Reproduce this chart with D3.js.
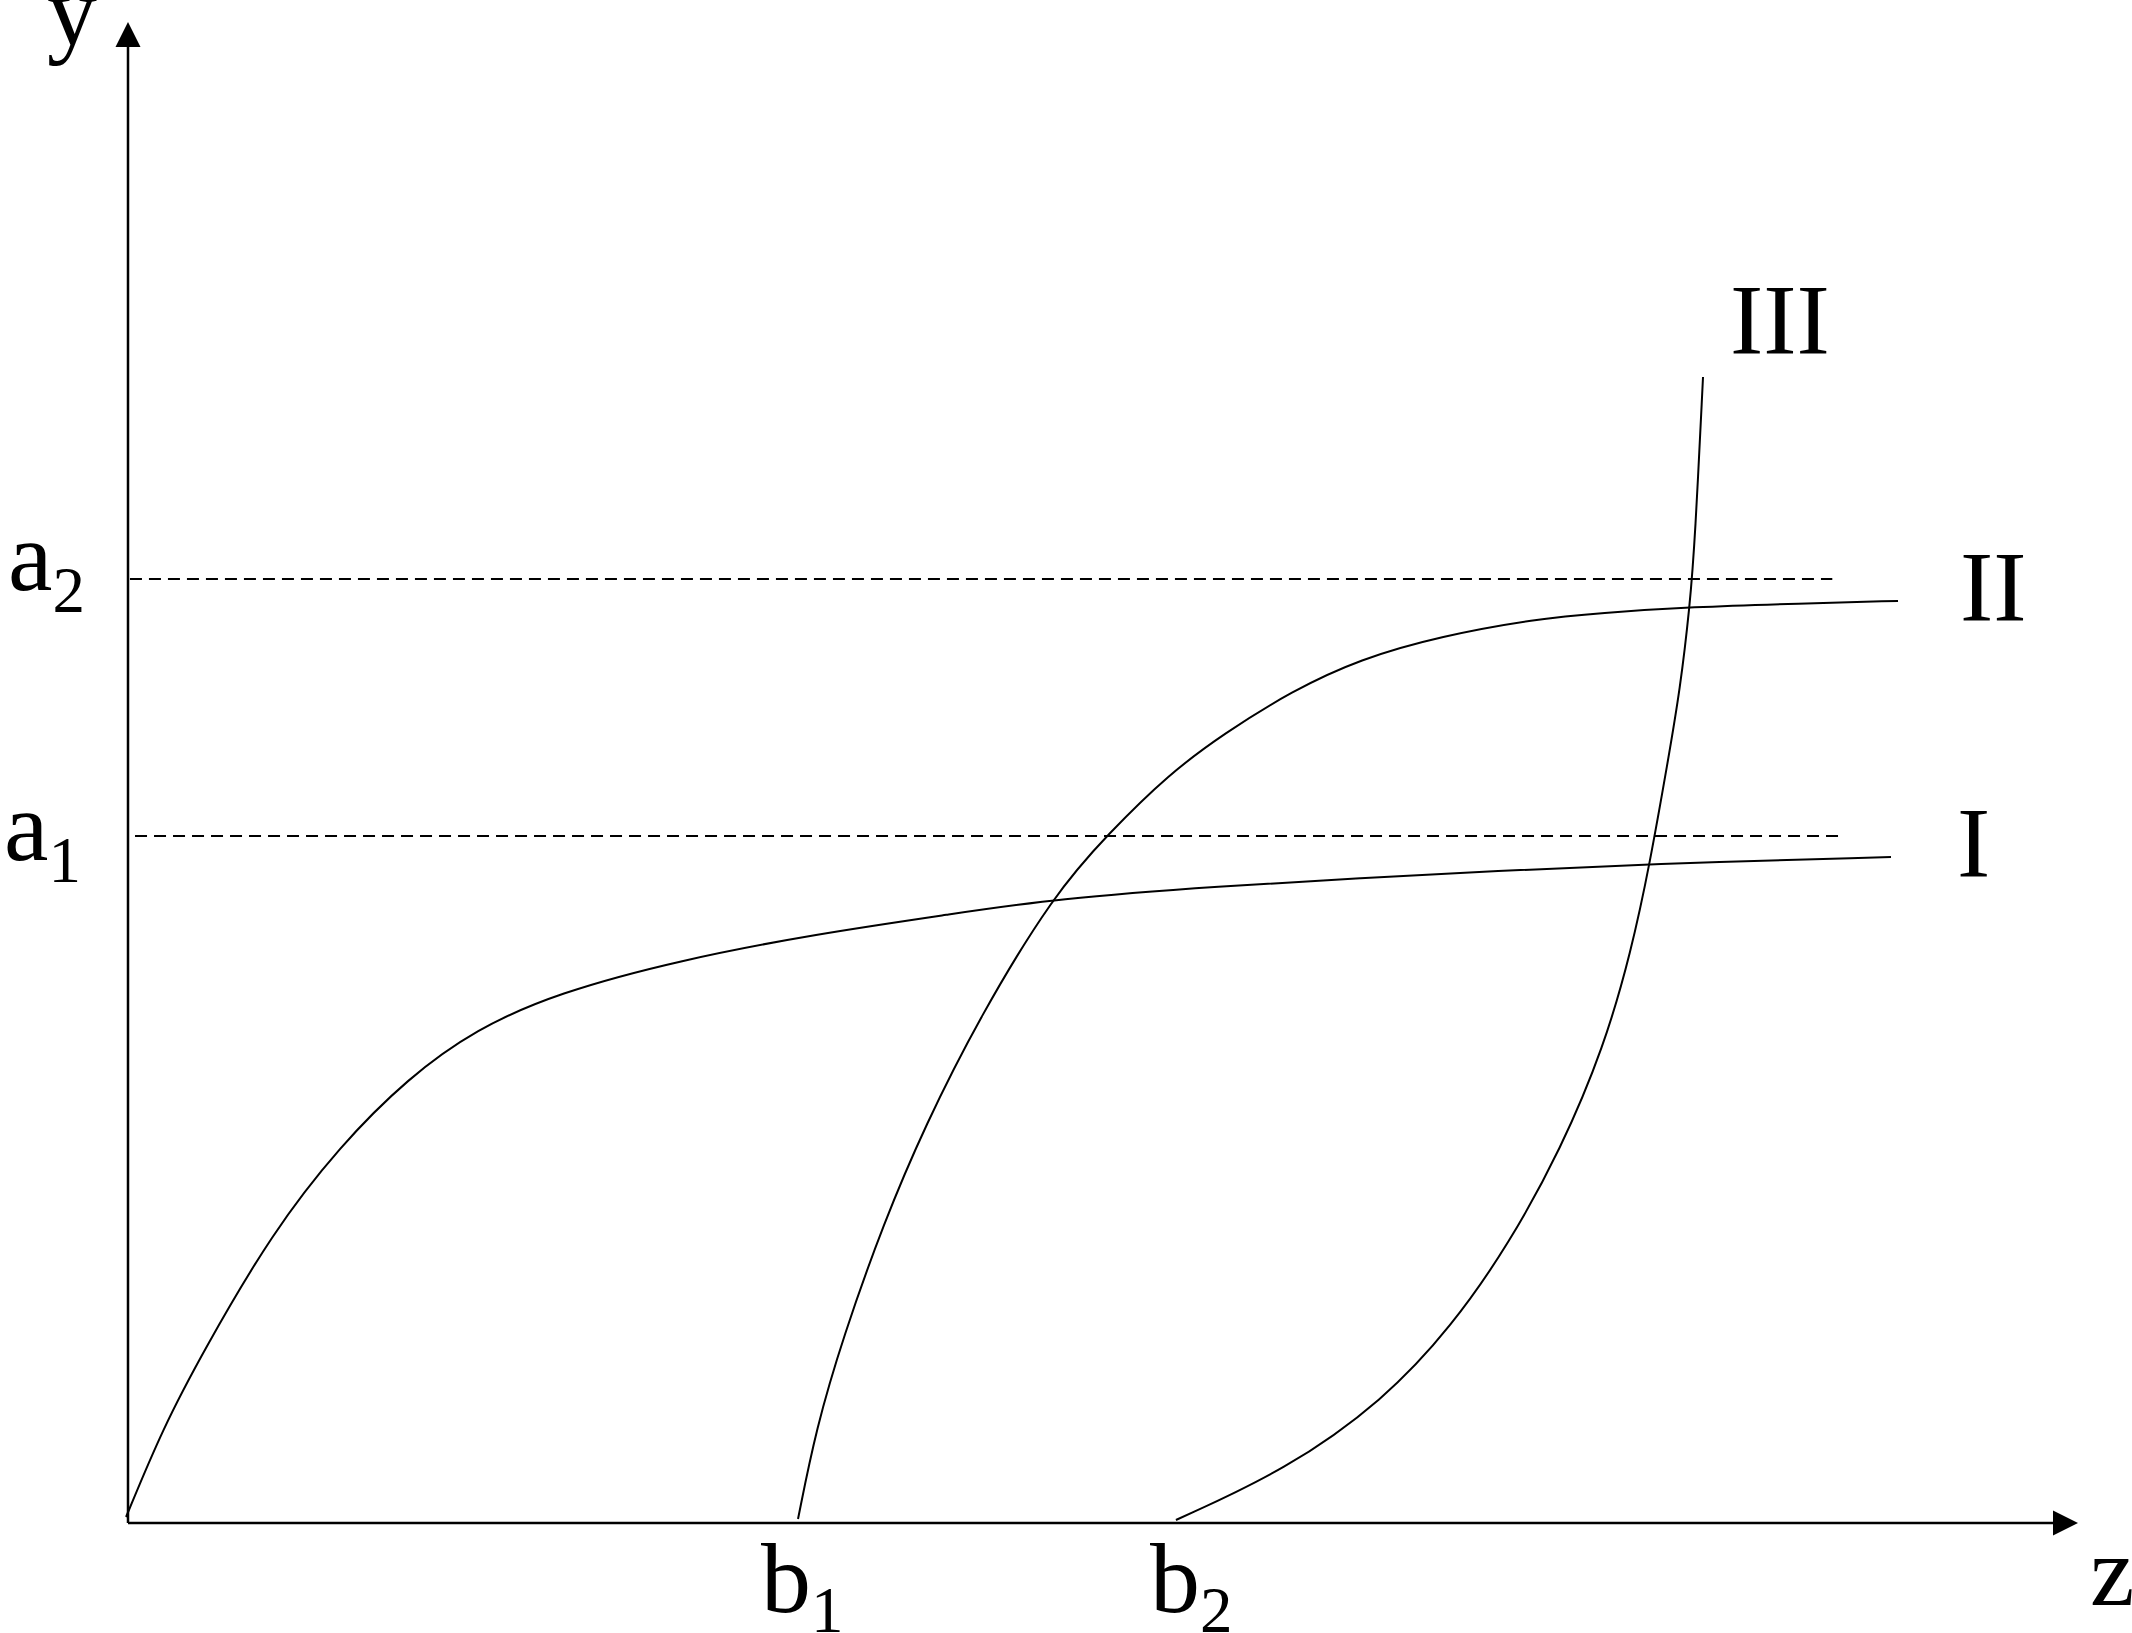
<!DOCTYPE html>
<html>
<head>
<meta charset="utf-8">
<script src="https://cdn.jsdelivr.net/npm/d3@7"></script>
<style>
  html, body { margin: 0; padding: 0; background: #fff; }
  svg { display: block; }
  text { font-family: "Liberation Serif", "Times New Roman", serif; fill: #000; }
</style>
</head>
<body>
<svg id="chart" width="2132" height="1633"></svg>
<script>
// ---- data (abstract units: z along horizontal axis, y along vertical axis) ----
const curveI = [
  [-0.1, 0.4], [1.79, 6.33], [3.90, 11.53], [7.38, 19.32], [10.87, 25.12],
  [14.36, 29.65], [17.85, 32.91], [22.0, 35.31], [28.31, 37.51], [35.28, 39.24],
  [42.26, 40.57], [47.49, 41.58], [56.21, 42.44], [63.18, 42.97], [70.15, 43.44],
  [77.79, 43.90], [90.41, 44.37]
];
const curveII = [
  [34.36, 0.27], [35.28, 6.26], [36.67, 12.39], [38.77, 20.05], [40.87, 26.45],
  [43.64, 33.64], [47.49, 41.90], [50.26, 45.9], [53.38, 49.9], [56.21, 52.6],
  [59.69, 55.43], [63.18, 57.56], [67.33, 59.09], [72.21, 60.23], [75.49, 60.63],
  [80.21, 61.03], [85.74, 61.26], [90.77, 61.43]
];
const curveIII = [
  [53.74, 0.2], [59.38, 3.53], [64.41, 8.19], [67.90, 13.12], [70.82, 18.59],
  [73.49, 24.92], [75.69, 31.71], [77.08, 38.04], [78.05, 43.97], [78.97, 50.77],
  [79.59, 55.50], [80.10, 61.16], [80.36, 65.49], [80.77, 76.35]
];
const curveNames = ["I", "II", "III"];
const levelNames = ["a", "a"];
const levelSubs = ["1", "2"];
const levelValues = [45.77, 62.89];
const levelExtent = [[0.36, 87.7], [0.1, 87.4]];
const bNames = ["b", "b"];
const bSubs = ["1", "2"];
const bValues = [34.36, 53.74];
const axisNames = ["z", "y"];

// ---- scales ----
const svg = d3.select("#chart");
const x = d3.scaleLinear().domain([0, 100]).range([128, 2078]);
const y = d3.scaleLinear().domain([0, 100]).range([1523, 22]);

// ---- axes ----
const g = svg.append("g");
g.append("line").attr("x1", x(0)).attr("y1", y(0)).attr("x2", x(0)).attr("y2", y(100) + 20)
  .attr("stroke", "#000").attr("stroke-width", 2.5);
g.append("line").attr("x1", x(0)).attr("y1", y(0)).attr("x2", x(100) - 20).attr("y2", y(0))
  .attr("stroke", "#000").attr("stroke-width", 2.5);
// arrow heads
g.append("path")
  .attr("d", `M${x(0)},${y(100)} L${x(0) - 12.5},${y(100) + 25} L${x(0) + 12.5},${y(100) + 25} Z`)
  .attr("fill", "#000");
g.append("path")
  .attr("d", `M${x(100)},${y(0)} L${x(100) - 25},${y(0) - 12.5} L${x(100) - 25},${y(0) + 12.5} Z`)
  .attr("fill", "#000");

// axis names
svg.append("text").attr("x", x(100) + 12).attr("y", y(0) + 82).attr("font-size", 100).text(axisNames[0]);
svg.append("text").attr("x", x(0) - 81).attr("y", y(100) + 23).attr("font-size", 100).text(axisNames[1]);

// ---- dashed levels ----
levelValues.forEach((v, i) => {
  svg.append("line")
    .attr("x1", x(levelExtent[i][0])).attr("x2", x(levelExtent[i][1]))
    .attr("y1", y(v)).attr("y2", y(v))
    .attr("stroke", "#000").attr("stroke-width", 2)
    .attr("stroke-dasharray", "12,7");
});
// level labels
const levelLabelPos = [{ dx: 4, dy: 24 }, { dx: 8, dy: 11 }];
levelValues.forEach((v, i) => {
  const t = svg.append("text").attr("x", levelLabelPos[i].dx).attr("y", y(v) + levelLabelPos[i].dy)
    .attr("font-size", 100);
  t.append("tspan").text(levelNames[i]);
  t.append("tspan").attr("font-size", 65).attr("dy", 22).text(levelSubs[i]);
});

// ---- b labels ----
const bLabelDx = [-37, -26];
bValues.forEach((v, i) => {
  const t = svg.append("text").attr("x", x(v) + bLabelDx[i]).attr("y", y(0) + 89)
    .attr("font-size", 100);
  t.append("tspan").text(bNames[i]);
  t.append("tspan").attr("font-size", 65).attr("dy", 20).text(bSubs[i]);
});

// ---- curves ----
const line = d3.line().x(d => x(d[0])).y(d => y(d[1])).curve(d3.curveBasis);
[curveI, curveII, curveIII].forEach(c => {
  svg.append("path").attr("d", line(c)).attr("fill", "none")
    .attr("stroke", "#000").attr("stroke-width", 2);
});

// curve labels
const curveLabelPos = [
  { x: 1957, y: 876 },
  { x: 1960, y: 620 },
  { x: 1730, y: 353 }
];
curveNames.forEach((n, i) => {
  svg.append("text").attr("x", curveLabelPos[i].x).attr("y", curveLabelPos[i].y)
    .attr("font-size", 100).text(n);
});
</script>
</body>
</html>
